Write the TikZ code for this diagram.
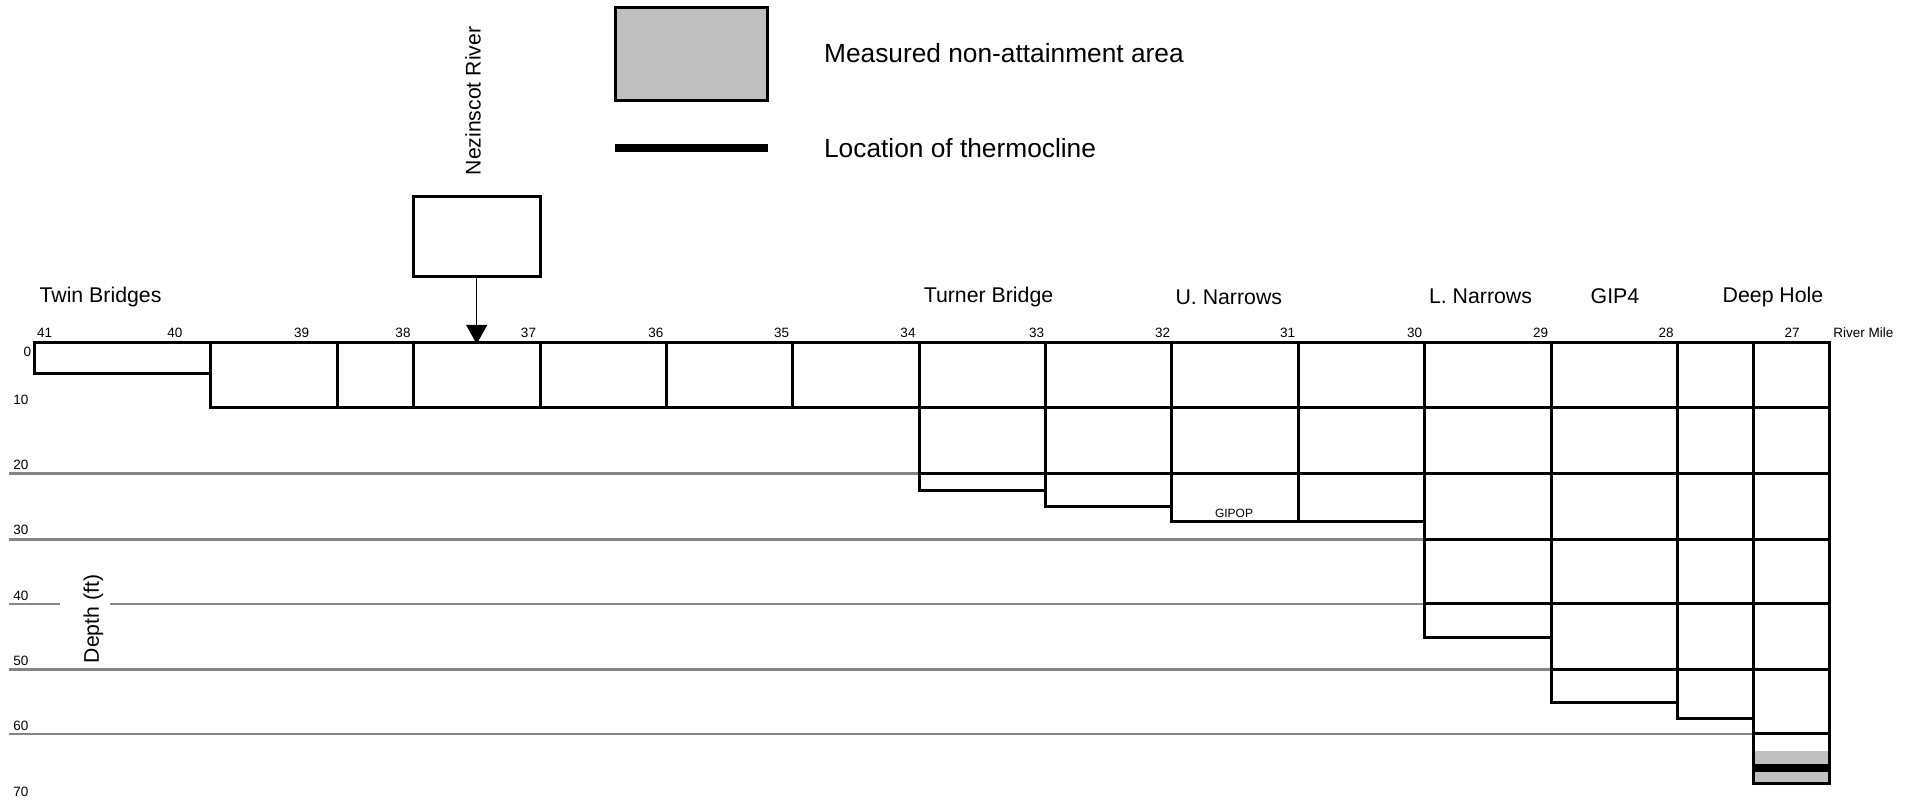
\documentclass[tikz,border=0pt]{standalone}
\usepackage{fontspec}
\setmainfont{Liberation Sans}
\usetikzlibrary{arrows.meta}
\definecolor{fillgray}{HTML}{C0C0C0}
\definecolor{guidegray}{HTML}{858585}
\tikzset{
  cell/.style={draw=black, line width=1.5pt},
  guide/.style={draw=guidegray, line width=1.35pt},
  thermo/.style={draw=black, line width=4pt},
  milelabel/.style={inner sep=0pt, font=\fontsize{6.75}{8}\selectfont},
  depthlabel/.style={inner sep=0pt, anchor=west, font=\fontsize{6.75}{8}\selectfont},
  placelabel/.style={inner sep=0pt, font=\fontsize{10.65}{12}\selectfont},
  sidelabel/.style={inner sep=0pt, rotate=90, font=\fontsize{10.6}{12}\selectfont},
  legendtext/.style={inner sep=0pt, anchor=west, font=\fontsize{13.15}{15}\selectfont},
}
\begin{document}
\begin{tikzpicture}[x=0.5pt,y=-0.5pt]
\useasboundingbox (0,0) rectangle (1919,801);

% depth guide lines
\draw[guide] (9,473.3) -- (919,473.3);
\draw[guide] (9,539.2) -- (1424.4,539.2);
\draw[guide] (9,604) -- (60,604);
\draw[guide] (110,604) -- (1424.4,604);
\draw[guide] (9,669.3) -- (1551,669.3);
\draw[guide] (9,734) -- (1753,734);

% non-attainment fill and thermocline at Deep Hole
\fill[fillgray] (1753,751) rectangle (1829,783.3);
\draw[thermo] (1753,767.9) -- (1829,767.9);

% segments
\draw[cell] (34.4,342.3) rectangle (210.8,373.5);
\foreach \l/\r in {210.8/337.5, 337.5/413.7, 413.7/540, 540/666.3, 666.3/792.7, 792.7/919, 919/1045.3, 1045.3/1171.8, 1171.8/1298, 1298/1424.4, 1424.4/1551, 1551/1677, 1677/1753, 1753/1829}
  \draw[cell] (\l,342.3) rectangle (\r,407.5);
\foreach \l/\r in {919/1045.3, 1045.3/1171.8, 1171.8/1298, 1298/1424.4, 1424.4/1551, 1551/1677, 1677/1753, 1753/1829}
  \draw[cell] (\l,407.5) rectangle (\r,473.3);
\foreach \l/\r/\b in {919/1045.3/490.7, 1045.3/1171.8/506.7, 1171.8/1298/521.9, 1298/1424.4/521.9, 1424.4/1551/539.2, 1551/1677/539.2, 1677/1753/539.2, 1753/1829/539.2}
  \draw[cell] (\l,473.3) rectangle (\r,\b);
\foreach \l/\r in {1424.4/1551, 1551/1677, 1677/1753, 1753/1829}
  \draw[cell] (\l,539.2) rectangle (\r,604);
\foreach \l/\r/\b in {1424.4/1551/637.3, 1551/1677/669.3, 1677/1753/669.3, 1753/1829/669.3}
  \draw[cell] (\l,604) rectangle (\r,\b);
\foreach \l/\r/\b in {1551/1677/702.3, 1677/1753/718.3, 1753/1829/734}
  \draw[cell] (\l,669.3) rectangle (\r,\b);
\draw[cell] (1753,734) rectangle (1829,783.3);

% river mile labels
\foreach \m/\x in {41/44.7, 40/175, 39/301.7, 38/403, 37/528.5, 36/655.8, 35/781.7, 34/908, 33/1036.6, 32/1162.5, 31/1287.5, 30/1414.5, 29/1540.5, 28/1666, 27/1792}
  \node[milelabel] (mile\m) at (\x,333) {\m};
\node[milelabel, anchor=west] (rivermile) at (1833,333) {River Mile};

% depth labels
\node[milelabel] (d0) at (27.5,351.7) {0};
\foreach \d/\y in {10/400, 20/465, 30/530, 40/596, 50/661, 60/726, 70/792}
  \node[depthlabel] (d\d) at (13,\y) {\d};
\node[sidelabel] (depthtitle) at (93.3,619) {Depth (ft)};

% place names
\node[placelabel] (twin) at (100.5,297) {Twin Bridges};
\node[placelabel] (turner) at (988.5,296.5) {Turner Bridge};
\node[placelabel] (unarrows) at (1228.8,297) {U. Narrows};
\node[placelabel] (lnarrows) at (1480.5,296) {L. Narrows};
\node[placelabel] (gip4) at (1615,296.5) {GIP4};
\node[placelabel] (deephole) at (1773,296.5) {Deep Hole};
\node[inner sep=0pt, font=\fontsize{6}{7}\selectfont] (gipop) at (1234,513.3) {GIPOP};

% tributary
\node[cell, inner sep=0pt, minimum width=63.35pt, minimum height=40pt] (nez) at (476.7,236.3) {};
\node[sidelabel] (neztext) at (473,101) {Nezinscot River};
\coordinate (inflow) at (476.7,344);
\draw[line width=0.6pt, -{Triangle[length=9.5pt,width=10.5pt]}] (nez.south) -- (inflow);

% legend
\node[cell, fill=fillgray, inner sep=0pt, minimum width=76.1pt, minimum height=46.7pt] (legbox) at (691.4,54) {};
\node[legendtext] (legboxtext) at (823.7,53.3) {Measured non-attainment area};
\coordinate (legA) at (615.3,148.2);
\coordinate (legB) at (767.5,148.2);
\draw[thermo] (legA) -- (legB);
\node[legendtext] (leglinetext) at (823.7,148.3) {Location of thermocline};
\end{tikzpicture}
\end{document}
